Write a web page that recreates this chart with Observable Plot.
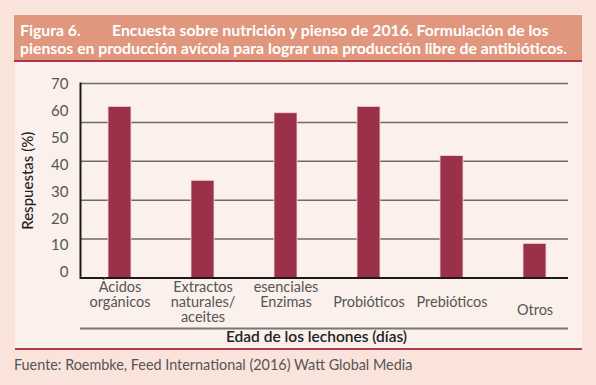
<!DOCTYPE html>
<html>
<head>
<meta charset="utf-8">
<script src="https://cdn.jsdelivr.net/npm/d3@7"></script>
<script src="https://cdn.jsdelivr.net/npm/@observablehq/plot@0.6"></script>
<style>
  html, body { margin: 0; padding: 0; }
  body { width: 596px; height: 385px; background: #fae3da; position: relative; overflow: hidden; font-family: Lato, "Open Sans", sans-serif; }
  #band { position: absolute; left: 14px; top: 15px; width: 568px; height: 45px; background: #e0977d; border-bottom: 2px solid #ad3649; }
  .tl { position: absolute; color: #fff; font-weight: 700; font-size: 15.8px; white-space: nowrap; line-height: 1; }
  #panel { position: absolute; left: 15px; top: 62px; width: 567px; height: 286px; background: #fbf0eb; border-bottom: 2px solid #b13a4d; }
  #chart { position: absolute; left: 0; top: 62px; }
  #foot { position: absolute; left: 14px; top: 358px; color: #555; font-size: 14.4px; white-space: nowrap; line-height: 1; }
</style>
</head>
<body>
<div id="band"></div>
<div class="tl" id="t1a" style="left:20px; top:22px;">Figura 6.</div>
<div class="tl" id="t1b" style="left:112px; top:22px;">Encuesta sobre nutrición y pienso de 2016. Formulación de los</div>
<div class="tl" id="t2" style="left:20px; top:40px;">piensos en producción avícola para lograr una producción libre de antibióticos.</div>
<div id="panel"></div>
<div id="chart"></div>
<div id="foot">Fuente: Roembke, Feed International (2016) Watt Global Media</div>
<script>
// Data
const categories = ["Ácidos orgánicos", "Extractos naturales/aceites", "Enzimas", "Probióticos", "Prebióticos", "Otros"];
const values = [61.6, 35.0, 59.3, 61.6, 43.9, 12.3];
const tickLabels = [0, 10, 20, 30, 40, 50, 60, 70];
const xLabels = ["Ácidos\norgánicos", "Extractos\nnaturales/\naceites", "esenciales\nEnzimas", "Probióticos", "Prebióticos", "Otros"];
const gridValues = [14, 28, 42, 56];
const yTitle = "Respuestas (%)";
const xTitle = "Edad de los lechones (días)";

const data = categories.map((c, i) => ({category: c, value: values[i]}));
// label rows: which line the label starts on (reference layout)
const startLine = [0, 0, 0, 1, 1, 1.5];
const labelData = categories.map((c, i) => ({category: c, text: "\n".repeat(Math.floor(startLine[i])) + xLabels[i], half: startLine[i] % 1 !== 0}));

const font = "Lato, 'Open Sans', sans-serif";
const chart = Plot.plot({
  width: 596,
  height: 288,
  marginLeft: 80,
  marginRight: 28,
  marginTop: 21,
  marginBottom: 72.5,
  style: {background: "transparent", fontFamily: font},
  x: {domain: categories, range: [78.3, 577.1], paddingInner: 0.717, paddingOuter: 0.36, axis: null},
  y: {domain: [0, 70], axis: null},
  marks: [
    Plot.ruleY(gridValues, {stroke: "#6f6a68", strokeWidth: 1.5}),
    Plot.ruleY([70], {stroke: "#6f6a68", strokeWidth: 1.5}),
    Plot.barY(data, {x: "category", y: "value", fill: "#9b3149", stroke: "#f3dcdc", strokeWidth: 0.8}),
    Plot.ruleY([0], {stroke: "#1a1a1a", strokeWidth: 2}),
    Plot.frame({anchor: "left", stroke: "#1a1a1a", strokeWidth: 2}),
    Plot.text(tickLabels, {y: d => d * 0.966 + 2, frameAnchor: "left", dx: -12, textAnchor: "end", text: d => String(d), fill: "#555", fontSize: 15}),
    Plot.text(labelData.filter(d => !d.half), {x: "category", y: 0, text: "text", lineAnchor: "top", dy: 3.5, lineHeight: 1.04, fill: "#555", fontSize: 14.5}),
    Plot.text(labelData.filter(d => d.half), {x: "category", y: 0, text: "text", lineAnchor: "top", dy: 3.5 + 7.5, lineHeight: 1.04, fill: "#555", fontSize: 14.5}),
    Plot.ruleY([0], {stroke: "#7a7573", strokeWidth: 2, dy: 50.5}),
    Plot.text([xTitle], {frameAnchor: "bottom", dy: 64, dx: -8, textAnchor: "middle", text: d => d, fill: "#222", fontSize: 15.5, fontWeight: 600}),
    Plot.text([yTitle], {frameAnchor: "left", dx: -52, rotate: -90, textAnchor: "middle", text: d => d, fill: "#222", fontSize: 15, fontWeight: 500})
  ]
});
document.getElementById("chart").appendChild(chart);
</script>
</body>
</html>
